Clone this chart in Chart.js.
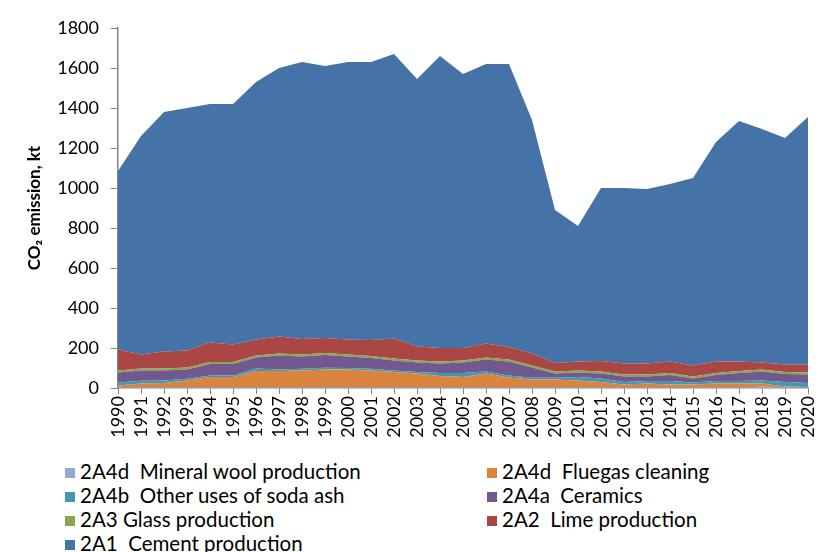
<!DOCTYPE html>
<html>
<head>
<meta charset="utf-8">
<script src="https://cdn.jsdelivr.net/npm/chart.js@4/dist/chart.umd.min.js"></script>
<style>
  body { margin: 0; background: #fff; }
  #wrap { position: relative; width: 818px; height: 552px; }
  #chart { position: absolute; left: 0; top: 0; }
  #legend { position: absolute; left: 0; top: 459px; width: 818px; font: 20.5px Lato, sans-serif; color: #000; }
  .item { position: absolute; white-space: pre; line-height: 24px; }
  .item span.box { display: inline-block; width: 10px; height: 10px; margin-right: 5px; vertical-align: 1px; }
</style>
</head>
<body>
<div id="wrap">
  <canvas id="chart" width="818" height="455"></canvas>
  <div id="legend"></div>
</div>
<script>
const years = ["1990","1991","1992","1993","1994","1995","1996","1997","1998","1999","2000",
  "2001","2002","2003","2004","2005","2006","2007","2008","2009","2010",
  "2011","2012","2013","2014","2015","2016","2017","2018","2019","2020"];

// kt CO2 per source category
const mineralWool = [3,3,3,3,3,3,3,3,3,3,3,3,3,3,3,3,3,3,3,3,3,3,3,3,3,3,3,3,6,4,3];
const fluegas = [10,19,22,35,52,52,82,82,85,90,89,85,77,69,57,52,69,49,40,40,35,27,15,19,15,15,19,19,16,4,2];
const sodaAsh = [15,14,13,8,8,8,12,8,8,8,8,8,8,8,15,20,11,11,8,8,17,17,12,13,17,9,13,13,16,22,20];
const ceramics = [50,51,49,46,57,57,56,69,62,64,57,54,50,48,48,53,59,70,52,22,23,26,28,23,30,21,30,40,45,40,43];
const glass = [10,10,10,10,10,10,10,10,10,10,10,10,10,10,10,10,10,10,10,10,10,10,10,10,10,10,10,10,10,10,10];
const lime = [104,70,86,86,97,87,80,86,77,75,75,80,99,70,67,62,70,62,59,42,45,52,54,54,58,55,58,48,35,38,40];
const cement = [893,1093,1197,1212,1193,1203,1287,1342,1385,1360,1388,1390,1423,1337,1460,1370,1398,1415,1168,765,677,865,878,873,887,937,1097,1202,1167,1132,1237];

const series = [
  { label: "2A4d  Mineral wool production", data: mineralWool, color: "#93A9CF" },
  { label: "2A4d  Fluegas cleaning", data: fluegas, color: "#DB843D" },
  { label: "2A4b  Other uses of soda ash", data: sodaAsh, color: "#4198AF" },
  { label: "2A4a  Ceramics", data: ceramics, color: "#71588F" },
  { label: "2A3 Glass production", data: glass, color: "#89A54E" },
  { label: "2A2  Lime production", data: lime, color: "#AA4643" },
  { label: "2A1  Cement production", data: cement, color: "#4572A7" }
];

const axisGray = "#868686";
const font = { family: "Lato, sans-serif", size: 18 };

new Chart(document.getElementById("chart").getContext("2d"), {
  type: "line",
  data: {
    labels: years,
    datasets: series.map((s, i) => ({
      label: s.label,
      data: s.data,
      backgroundColor: s.color,
      borderColor: s.color,
      borderWidth: 0,
      pointRadius: 0,
      tension: 0,
      fill: i === 0 ? "origin" : "-1"
    }))
  },
  options: {
    responsive: false,
    animation: false,
    layout: { padding: { top: 28, right: 0, left: 20, bottom: 0 } },
    plugins: { legend: { display: false }, tooltip: { enabled: false } },
    scales: {
      x: {
        offset: false,
        grid: { drawOnChartArea: false, color: axisGray, tickLength: 6 },
        border: { color: axisGray, width: 1.5 },
        ticks: { color: "#000", font: font, minRotation: 90, maxRotation: 90, autoSkip: false, padding: 2 },
        afterFit: (scale) => { scale.height = 67; scale.paddingRight = 10; }
      },
      y: {
        stacked: true,
        min: 0,
        max: 1800,
        grid: { drawOnChartArea: false, color: axisGray, tickLength: 7 },
        border: { color: axisGray, width: 1.5 },
        ticks: { color: "#000", font: font, stepSize: 200, padding: 12, callback: (v) => String(v) },
        title: { display: true, text: "CO₂ emission, kt", color: "#000", font: { family: "Lato, sans-serif", size: 17, weight: "bold" }, padding: { bottom: 6 } },
        afterFit: (scale) => { scale.width = 98; }
      }
    }
  }
});

// legend in two columns, same order as the stack
const legendPos = [[65, 0], [487, 0], [65, 24], [487, 24], [65, 48], [487, 48], [65, 72]];
const legend = document.getElementById("legend");
series.forEach((s, i) => {
  const div = document.createElement("div");
  div.className = "item";
  div.style.left = legendPos[i][0] + "px";
  div.style.top = legendPos[i][1] + "px";
  div.innerHTML = '<span class="box" style="background:' + s.color + '"></span>' + s.label;
  legend.appendChild(div);
});
</script>
</body>
</html>
